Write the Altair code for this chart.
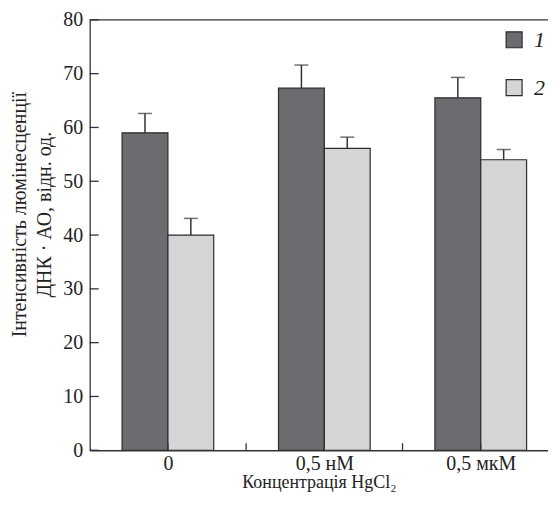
import json
import altair as alt
import pandas as pd

# ---- data ----
conc_labels = ["0", "0,5 нМ", "0,5 мкМ"]
series_names = ["1", "2"]
series1 = [59.0, 67.3, 65.5]
series1_err = [3.6, 4.3, 3.8]
series2 = [40.0, 56.1, 54.0]
series2_err = [3.1, 2.1, 1.9]
y_tick_values = [0, 10, 20, 30, 40, 50, 60, 70, 80]
x_tick_values = [0, 0.5, 1, 1.5, 2]

# ---- layout constants ----
W, H = 460, 432
PX_PER_CAT = 157.0
BAR = 46 / PX_PER_CAT
DARK = "#6b6c70"
LIGHT = "#d4d5d7"
EDGE = "#2b2b2b"
AX = "#333333"
FONT = "Liberation Serif"

rows = []
for i, c in enumerate(conc_labels):
    rows.append(dict(idx=i, conc=c, series=series_names[0], value=series1[i], err=series1_err[i]))
    rows.append(dict(idx=i, conc=c, series=series_names[1], value=series2[i], err=series2_err[i]))
df = pd.DataFrame(rows)

xscale = alt.Scale(domain=[-0.5, -0.5 + W / PX_PER_CAT], nice=False, zero=False)
yscale = alt.Scale(domain=[0, 80], nice=False)

label_expr = json.dumps(conc_labels, ensure_ascii=False) + "[datum.value]"

xaxis = alt.Axis(
    values=[0, 1, 2], labelExpr=label_expr, title="Концентрація HgCl₂",
    ticks=False, grid=False, labelPadding=3, titlePadding=0, titleFontSize=18,
)
yaxis = alt.Axis(
    values=y_tick_values, ticks=False, grid=False, labelPadding=7, titlePadding=8,
    titleY=195,
    title=["Інтенсивність люмінесценції", "ДНК · АО, відн. од."],
)

base = alt.Chart(df).transform_calculate(
    x0=f"datum.idx + (datum.series == '1' ? {-BAR} : 0)",
    x1=f"datum.idx + (datum.series == '1' ? 0 : {BAR})",
    xc=f"datum.idx + (datum.series == '1' ? {-BAR / 2} : {BAR / 2})",
    top="datum.value + datum.err",
)

bars = base.mark_bar(stroke=EDGE, strokeWidth=1.2).encode(
    x=alt.X("x0:Q", scale=xscale, axis=xaxis),
    x2="x1:Q",
    y=alt.Y("value:Q", scale=yscale, axis=yaxis),
    y2=alt.datum(0),
    color=alt.Color(
        "series:N",
        scale=alt.Scale(domain=series_names, range=[DARK, LIGHT]),
        legend=alt.Legend(
            title=None, orient="none", legendX=415, legendY=9,
            symbolType="square", symbolSize=256, symbolStrokeColor=EDGE,
            symbolStrokeWidth=1.2, labelFont=FONT, labelFontStyle="italic",
            labelFontSize=22, labelColor="#222", rowPadding=26, labelOffset=9,
            padding=0,
        ),
    ),
)

err_rule = base.mark_rule(color=AX, strokeWidth=1.5).encode(
    x=alt.X("xc:Q", scale=xscale), y=alt.Y("value:Q", scale=yscale), y2="top:Q"
)
err_cap = base.mark_tick(orient="horizontal", size=14, thickness=1.5, color=AX).encode(
    x=alt.X("xc:Q", scale=xscale), y=alt.Y("top:Q", scale=yscale)
)

yticks = alt.Chart(pd.DataFrame({"t": y_tick_values})).mark_rule(color=AX, strokeWidth=1.3).encode(
    y=alt.Y("t:Q", scale=yscale), x=alt.value(0), x2=alt.value(9)
)
xticks = alt.Chart(pd.DataFrame({"t": x_tick_values})).mark_rule(color=AX, strokeWidth=1.3).encode(
    x=alt.X("t:Q", scale=xscale), y=alt.value(H), y2=alt.value(H - 7)
)
top_border = alt.Chart(pd.DataFrame({"a": [0]})).mark_rule(color=AX, strokeWidth=1.3).encode(
    x=alt.value(0), x2=alt.value(W), y=alt.value(0)
)

chart = alt.layer(bars, err_rule, err_cap, yticks, xticks, top_border).properties(
    width=W, height=H,
    autosize=alt.AutoSizeParams(type="none"),
    padding={"left": 82, "top": 11, "right": 0, "bottom": 42},
).configure_view(strokeWidth=0).configure_axis(
    domainColor=AX, domainWidth=1.3, labelFont=FONT, labelFontSize=20,
    labelColor="#222", titleFont=FONT, titleFontSize=20, titleFontWeight="normal",
    titleColor="#222", titleLineHeight=25,
)

chart.save("out.html", embed_options={"renderer": "svg", "actions": False})
